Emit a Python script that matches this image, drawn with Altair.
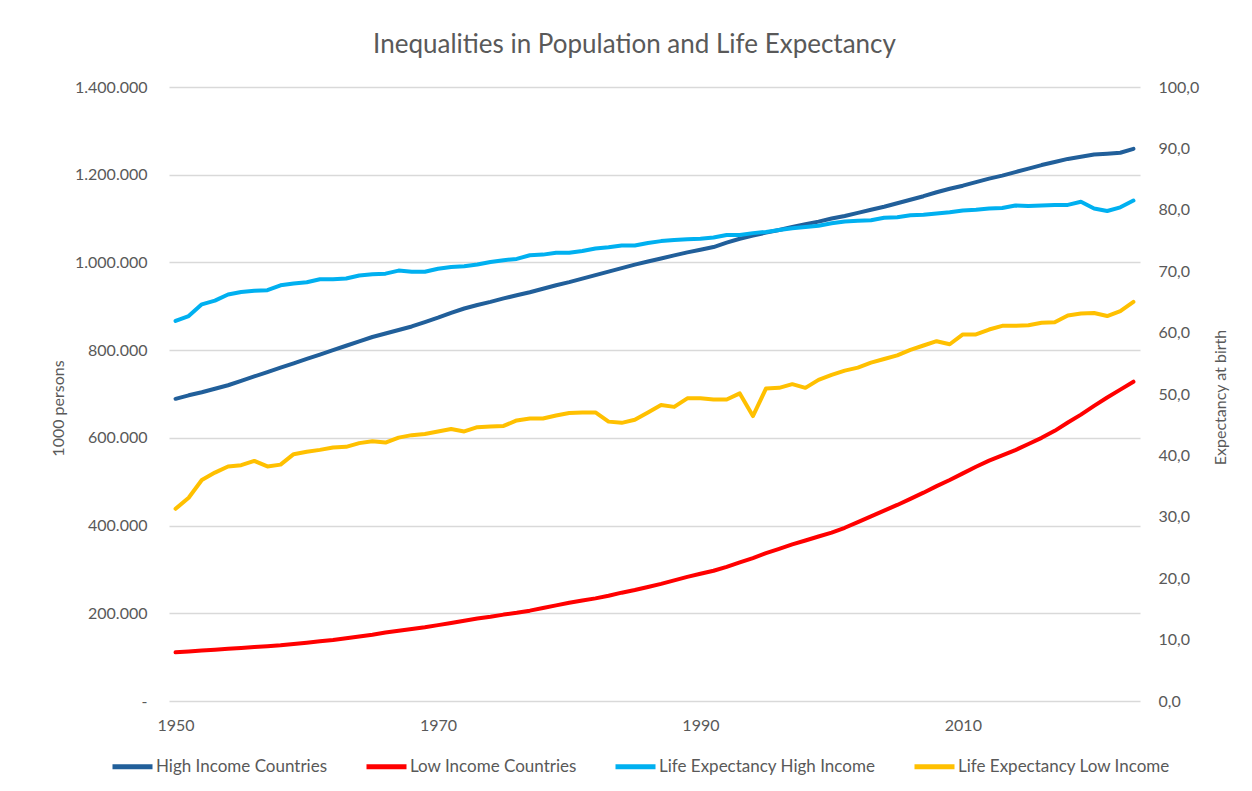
import altair as alt
import pandas as pd

years = list(range(1950, 2024))

# Population, 1000 persons (values read in thousands of "1000 persons")
high_income_pop = [
    689, 697, 704, 712, 720, 730, 740, 750, 760, 770,
    780, 790, 800, 810, 820, 830, 838, 846, 854, 864,
    874, 885, 895, 903, 910, 918, 925, 932, 940, 948,
    955, 963, 971, 979, 987, 995, 1002, 1009, 1016, 1023,
    1029, 1035, 1045, 1054, 1061, 1068, 1074, 1081, 1087, 1093,
    1100, 1106, 1113, 1120, 1127, 1135, 1143, 1151, 1160, 1168,
    1175, 1183, 1191, 1198, 1206, 1214, 1222, 1229, 1236, 1241,
    1246, 1248, 1250, 1259,
]
low_income_pop = [
    111, 113, 115, 117, 119, 121, 123, 125, 127, 130,
    133, 136, 139, 143, 147, 151, 156, 160, 164, 168,
    173, 178, 183, 188, 192, 197, 201, 206, 212, 218,
    224, 229, 234, 240, 247, 253, 260, 267, 275, 283,
    290, 297, 306, 316, 326, 337, 347, 357, 366, 375,
    384, 395, 408, 421, 434, 447, 461, 475, 490, 504,
    519, 534, 548, 560, 572, 586, 600, 616, 635, 653,
    673, 692, 710, 728,
]
# Life expectancy at birth (years)
life_exp_high = [
    61.9, 62.7, 64.6, 65.2, 66.2, 66.6, 66.8, 66.9, 67.7, 68.0,
    68.2, 68.7, 68.7, 68.8, 69.3, 69.5, 69.6, 70.1, 69.9, 69.9,
    70.4, 70.7, 70.8, 71.1, 71.5, 71.8, 72.0, 72.6, 72.7, 73.0,
    73.0, 73.3, 73.7, 73.9, 74.2, 74.2, 74.6, 74.9, 75.1, 75.2,
    75.3, 75.5, 75.9, 75.9, 76.2, 76.4, 76.7, 77.0, 77.2, 77.4,
    77.8, 78.1, 78.2, 78.3, 78.7, 78.8, 79.1, 79.2, 79.4, 79.6,
    79.9, 80.0, 80.2, 80.3, 80.7, 80.6, 80.7, 80.8, 80.8, 81.3,
    80.2, 79.8, 80.4, 81.5,
]
life_exp_low = [
    31.3, 33.1, 36.0, 37.2, 38.2, 38.4, 39.1, 38.2, 38.5, 40.2,
    40.6, 40.9, 41.3, 41.4, 42.0, 42.3, 42.1, 42.9, 43.3, 43.5,
    43.9, 44.3, 43.9, 44.6, 44.7, 44.8, 45.7, 46.0, 46.0, 46.5,
    46.9, 47.0, 47.0, 45.5, 45.3, 45.8, 47.0, 48.2, 47.9, 49.3,
    49.3, 49.1, 49.1, 50.1, 46.4, 50.9, 51.0, 51.6, 51.0, 52.3,
    53.1, 53.8, 54.3, 55.1, 55.7, 56.3, 57.2, 57.9, 58.6, 58.1,
    59.7, 59.7, 60.5, 61.1, 61.1, 61.2, 61.6, 61.7, 62.8, 63.1,
    63.2, 62.7, 63.5, 65.0,
]

series_names = [
    "High Income Countries",
    "Low Income Countries",
    "Life Expectancy High Income",
    "Life Expectancy Low Income",
]
series_colors = ["#215F9A", "#FF0000", "#00B0F0", "#FFC000"]

left_ticks = [0, 200000, 400000, 600000, 800000, 1000000, 1200000, 1400000]
right_ticks = [0, 10, 20, 30, 40, 50, 60, 70, 80, 90, 100]
x_ticks = [1950, 1970, 1990, 2010]

pop_df = pd.DataFrame({
    "year": years + years,
    "value": [v * 1000 for v in high_income_pop] + [v * 1000 for v in low_income_pop],
    "series": [series_names[0]] * len(years) + [series_names[1]] * len(years),
})
le_df = pd.DataFrame({
    "year": years + years,
    "value": life_exp_high + life_exp_low,
    "series": [series_names[2]] * len(years) + [series_names[3]] * len(years),
})

FONT = "Lato"
GREY = "#595959"

x_enc = alt.X(
    "year:Q",
    scale=alt.Scale(domain=[1949.5, 2023.5], nice=False, zero=False),
    axis=alt.Axis(
        values=x_ticks, format="d", grid=False, domain=False, ticks=False,
        labelPadding=16, labelFontSize=16, labelColor=GREY, labelFont=FONT, title=None,
    ),
)

color_scale = alt.Scale(domain=series_names, range=series_colors)

pop_layer = alt.Chart(pop_df).mark_line(
    strokeWidth=4, strokeCap="round", strokeJoin="round"
).encode(
    x=x_enc,
    y=alt.Y(
        "value:Q",
        scale=alt.Scale(domain=[0, 1400000], nice=False),
        axis=alt.Axis(
            values=left_ticks, format=",.0f",
            labelExpr="datum.value == 0 ? '-' : datum.label",
            domain=False, ticks=False, grid=True, gridColor="#D9D9D9", gridWidth=1.3,
            labelPadding=22, labelFontSize=16, labelColor=GREY, labelFont=FONT,
            title="1000 persons", titleX=-111, titleY=321, titleAngle=270,
            titleAlign="center", titleBaseline="middle", titleFontWeight="normal",
            titleFontSize=16, titleColor=GREY, titleFont=FONT,
        ),
    ),
    color=alt.Color(
        "series:N", scale=color_scale,
        legend=alt.Legend(
            orient="none", legendX=-59, legendY=657, direction="horizontal", columns=4,
            title=None, symbolType="stroke", symbolSize=1600, symbolStrokeWidth=5,
            labelFontSize=17, labelColor=GREY, labelFont=FONT, labelOffset=1,
            columnPadding=28, labelLimit=400,
        ),
    ),
    detail="series:N",
)

le_layer = alt.Chart(le_df).mark_line(
    strokeWidth=4, strokeCap="round", strokeJoin="round"
).encode(
    x=x_enc,
    y=alt.Y(
        "value:Q",
        scale=alt.Scale(domain=[0, 100], nice=False),
        axis=alt.Axis(
            orient="right", values=right_ticks, format=".1f",
            domain=False, ticks=False, grid=False,
            labelPadding=18, labelFontSize=16, labelColor=GREY, labelFont=FONT,
            title="Expectancy at birth", titleX=80, titleY=310, titleAngle=270,
            titleAlign="center", titleBaseline="middle", titleFontWeight="normal",
            titleFontSize=16, titleColor=GREY, titleFont=FONT,
        ),
    ),
    color=alt.Color("series:N", scale=color_scale, legend=None),
    detail="series:N",
)

chart = alt.layer(pop_layer, le_layer).resolve_scale(y="independent").properties(
    width=971,
    height=614,
    autosize=alt.AutoSizeParams(type="none"),
    padding={"left": 161, "top": 79, "right": 90, "bottom": 75},
    title=alt.TitleParams(
        "Inequalities in Population and Life Expectancy",
        fontSize=26, font=FONT, fontWeight="normal", color=GREY,
        anchor="middle", dx=-20, offset=21,
    ),
).configure(
    locale={"number": {"decimal": ",", "thousands": ".", "grouping": [3], "currency": ["", " €"]}},
).configure_view(stroke=None)

chart.save("out.html", embed_options={"renderer": "svg", "actions": False})
